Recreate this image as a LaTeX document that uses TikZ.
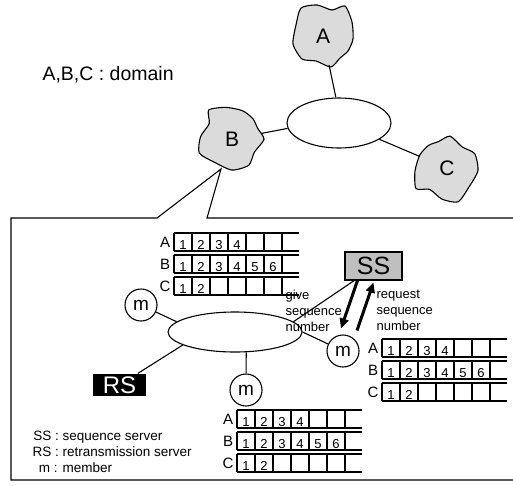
\documentclass[tikz,border=0pt]{standalone}
\usepackage{fontspec}
\setmainfont{Liberation Sans}
\usetikzlibrary{arrows.meta,shapes.geometric}

% irregular domain outline: #1 centre, #2 rotation
\newcommand{\domainblob}[2]{%
  \draw[blob,shift={#1},rotate=#2] plot[smooth cycle,tension=0.4] coordinates
    {(-22,-28) (-6,-31) (9,-26) (22,-30) (29,-14) (30,3) (25,15) (17,22)
     (8,31) (-7,25) (-21,23) (-30,8) (-27,-11)};}

% sequence table: #1 name, #2 left x, #3 top y of row A
\newcommand{\seqqueue}[3]{%
  \foreach \lbl/\n [count=\r from 0] in {A/4,B/6,C/2} {
    \pgfmathsetmacro{\yy}{#3+22*\r}
    \draw (#2,\yy) -- ++(125,0) (#2,\yy+18) -- ++(125,0);
    \foreach \k in {0,...,6} \draw (#2+18*\k,\yy) -- ++(0,18);
    \foreach \k in {1,...,\n} \node[cellnum] (#1\lbl\k) at (#2+18*\k-9,\yy+16) {\k};
    \node[rowlbl] (#1\lbl) at (#2-9,\yy+9) {\lbl};
  }}

\begin{document}
\begin{tikzpicture}[x=1pt,y=-1pt,line width=1.1pt,
 blob/.style={draw,fill=gray!28},
 domnode/.style={circle,minimum size=58pt,inner sep=0pt,font=\fontsize{21}{24}\selectfont},
 lan/.style={draw,ellipse,inner sep=0pt},
 member/.style={draw,circle,minimum size=32pt,inner sep=0pt,font=\fontsize{19}{20}\selectfont},
 cellnum/.style={anchor=base,inner sep=0pt,font=\fontsize{13}{14}\selectfont},
 rowlbl/.style={inner sep=0pt,font=\fontsize{15}{16}\selectfont},
 note/.style={align=left,inner sep=0pt,font=\fontsize{13}{16}\selectfont},
 seqarrow/.style={line width=3pt,-{Triangle[length=10pt,width=9pt]}}]
\useasboundingbox (0,0) rectangle (513,485);

% domains on the backbone
\domainblob{(323,36)}{0}
\domainblob{(232,139)}{75}
\domainblob{(447,168)}{160}
\node[domnode] (A) at (323,36) {A};
\node[domnode] (B) at (232,139) {B};
\node[domnode] (C) at (447,168) {C};
\node[lan,minimum width=104pt,minimum height=50pt] (bb) at (339,123) {};
\draw (A) -- (bb.97);
\draw (B) -- (bb.186);
\draw (bb.-22) -- (C);
\node[anchor=west,inner sep=0pt,font=\fontsize{19.5}{22}\selectfont] (key) at (42,75) {A,B,C : domain};

% zoom frame of domain B
\coordinate (Bfoot) at (221,169);
\draw (513,218) -- (207,218) -- (Bfoot) -- (157,218) -- (11,218) -- (11,480) -- (513,480);

% inside domain B
\node[lan,minimum width=134pt,minimum height=40pt] (lan) at (235,332) {};
\node[member] (m1) at (141,305) {m};
\node[member] (m2) at (246,390) {m};
\node[member] (m3) at (343,351) {m};
\node[fill=black,text=white,minimum width=53pt,minimum height=22pt,inner sep=0pt,
  font=\fontsize{24}{26}\selectfont] (RS) at (119.5,385) {RS};
\node[draw,fill=gray!50,minimum width=57pt,minimum height=28pt,inner sep=0pt,
  font=\fontsize{25}{28}\selectfont] (SS) at (373.5,266) {SS};
\draw (m1) -- (lan.170);
\draw (RS) -- (lan.194);
\draw (m2) -- (lan.-61);
\draw (m3) -- (lan.east);
\draw (lan.10) -- (SS.-143);
\draw[seqarrow] ([xshift=-16pt]SS.south) -- ([shift={(-2pt,6pt)}]m3.north);
\draw[seqarrow] ([shift={(14pt,4pt)}]m3.north) -- ([yshift=-2pt]SS.south);
\node[note,anchor=north west] (give) at (285,290) {give\\sequence\\number};
\node[note,anchor=north west] (req) at (376,290) {request\\sequence\\number};

\seqqueue{qt}{174}{233}
\seqqueue{qr}{382}{339}
\seqqueue{qb}{237}{410}

\node[anchor=west,inner sep=0pt,font=\fontsize{13.5}{16}\selectfont] (legend) at (32,453)
  {\begin{tabular}{@{}r@{ : }l@{}}SS & sequence server\\ RS & retransmission server\\ m & member\end{tabular}};
\end{tikzpicture}
\end{document}
